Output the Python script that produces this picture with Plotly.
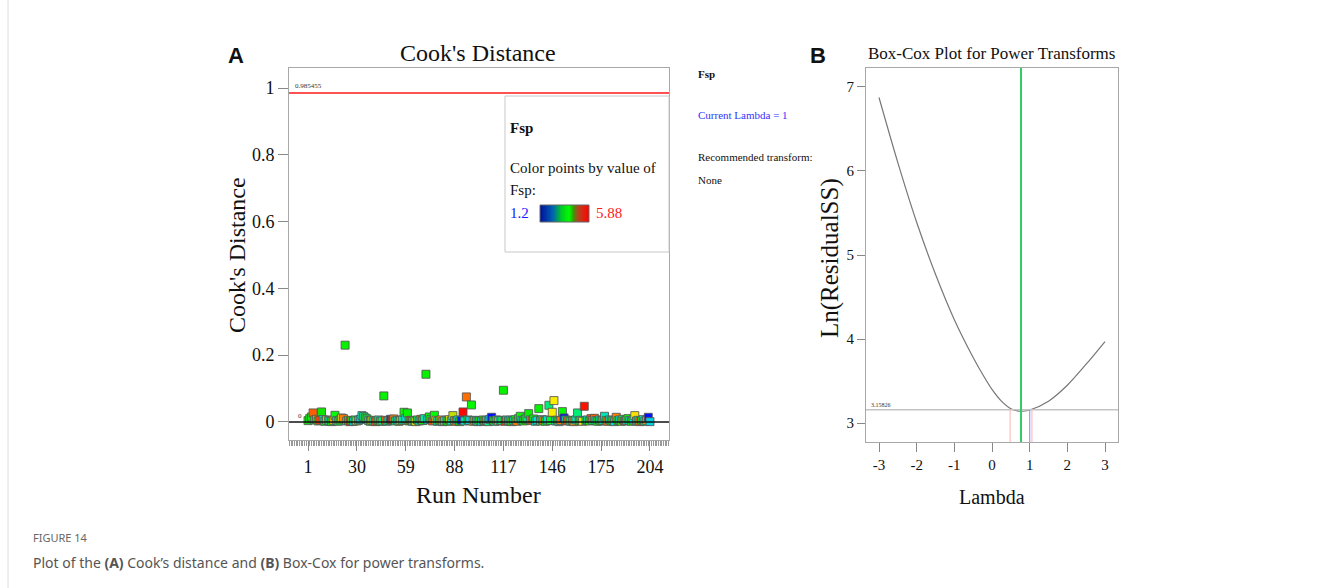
import numpy as np
import plotly.graph_objects as go

W, H = 1320, 588

# ---------------- data ----------------
run_number = list(range(1, 205))

cooks_distance = [
    0.004, 0.010, 0.015, 0.027, 0.006, 0.008, 0.003, 0.005, 0.030, 0.007, 0.002, 0.006, 0.004, 0.003, 0.001, 0.005, 0.020,
    0.004, 0.002, 0.006, 0.012, 0.010, 0.230, 0.003, 0.005, 0.001, 0.004, 0.002, 0.006, 0.003, 0.005, 0.008, 0.019, 0.016,
    0.012, 0.009, 0.004, 0.002, 0.005, 0.003, 0.001, 0.004, 0.006, 0.002, 0.003, 0.078, 0.005, 0.002, 0.004, 0.008, 0.006,
    0.009, 0.003, 0.005, 0.002, 0.004, 0.006, 0.029, 0.010, 0.027, 0.003, 0.005, 0.002, 0.004, 0.001, 0.006, 0.003, 0.008,
    0.004, 0.010, 0.143, 0.006, 0.015, 0.008, 0.003, 0.020, 0.005, 0.002, 0.004, 0.006, 0.001, 0.003, 0.005, 0.002, 0.007,
    0.003, 0.019, 0.004, 0.002, 0.006, 0.001, 0.005, 0.030, 0.003, 0.075, 0.006, 0.004, 0.051, 0.002, 0.005, 0.003, 0.001,
    0.004, 0.002, 0.006, 0.003, 0.005, 0.001, 0.008, 0.014, 0.004, 0.002, 0.006, 0.003, 0.005, 0.004, 0.095, 0.002, 0.006,
    0.003, 0.005, 0.001, 0.004, 0.007, 0.002, 0.010, 0.017, 0.005, 0.003, 0.008, 0.012, 0.025, 0.006, 0.004, 0.009, 0.002,
    0.005, 0.040, 0.003, 0.007, 0.004, 0.002, 0.006, 0.050, 0.004, 0.029, 0.064, 0.003, 0.005, 0.001, 0.004, 0.031, 0.012,
    0.006, 0.003, 0.005, 0.002, 0.004, 0.001, 0.006, 0.027, 0.003, 0.005, 0.002, 0.047, 0.004, 0.006, 0.003, 0.010, 0.005,
    0.011, 0.004, 0.002, 0.006, 0.003, 0.005, 0.017, 0.004, 0.002, 0.006, 0.003, 0.005, 0.001, 0.014, 0.004, 0.006, 0.002,
    0.008, 0.003, 0.005, 0.010, 0.004, 0.002, 0.006, 0.019, 0.003, 0.005, 0.001, 0.004, 0.007, 0.002, 0.005, 0.014, 0.001,
]

fsp_values = [
    3.6, 3.3, 3.5, 5.4, 2.9, 5.1, 3.4, 5.6, 3.7, 2.6, 3.5, 4.4, 3.2, 2.8, 3.6, 4.9, 3.3,
    2.5, 3.1, 3.8, 4.6, 5.2, 3.5, 2.7, 3.3, 5.7, 3.9, 2.4, 3.2, 4.5, 2.9, 2.3, 2.6, 3.0,
    3.4, 3.1, 2.5, 3.6, 4.4, 2.8, 5.5, 3.3, 2.6, 3.9, 3.0, 3.5, 5.3, 2.7, 3.2, 1.5, 5.8,
    5.2, 3.0, 2.6, 3.4, 4.8, 2.9, 3.4, 2.5, 3.5, 3.8, 5.6, 2.7, 3.3, 4.5, 3.1, 2.8, 5.4,
    3.6, 2.9, 3.5, 2.4, 3.4, 3.2, 5.5, 3.3, 4.6, 2.7, 3.9, 5.1, 3.0, 4.3, 2.6, 3.5, 4.4,
    2.8, 4.2, 3.1, 5.3, 2.5, 3.7, 1.4, 5.85, 2.7, 5.3, 3.2, 2.4, 3.4, 5.0, 2.9, 3.6, 2.6,
    3.3, 2.5, 3.8, 5.4, 2.6, 3.0, 2.3, 1.3, 3.5, 2.8, 3.2, 4.7, 2.4, 3.1, 3.5, 5.6, 2.7,
    3.4, 2.5, 3.9, 2.8, 3.3, 5.2, 2.9, 3.4, 2.6, 3.7, 3.2, 3.0, 3.5, 2.4, 5.5, 3.3, 2.7,
    2.6, 3.5, 3.1, 2.8, 5.1, 3.6, 2.5, 3.0, 3.2, 4.5, 4.5, 2.7, 3.8, 2.4, 5.3, 3.4, 1.3,
    2.9, 5.4, 3.3, 2.6, 3.7, 5.0, 2.8, 3.0, 3.5, 2.5, 4.6, 5.8, 3.2, 2.7, 3.6, 5.5, 3.1,
    5.4, 2.6, 3.4, 2.9, 3.8, 2.4, 2.7, 3.2, 5.2, 2.8, 3.5, 3.0, 2.5, 5.2, 3.3, 2.6, 3.9,
    3.1, 5.6, 2.7, 3.4, 2.8, 3.6, 2.5, 4.6, 3.2, 2.9, 5.3, 3.5, 2.6, 3.0, 5.0, 1.3, 2.3,
]

fsp_min, fsp_max = 1.2, 5.88
cooks_threshold = 0.985455
run_ticks = [1, 30, 59, 88, 117, 146, 175, 204]

# Box-Cox curve
boxcox_lambda = [-3.0, -2.5, -2.0, -1.5, -1.0, -0.5, -0.25, 0.0, 0.25, 0.5, 0.77, 1.0, 1.5, 2.0, 2.5, 3.0]
ln_residual_ss = [6.875, 6.10, 5.39, 4.77, 4.23, 3.78, 3.58, 3.40, 3.26, 3.17, 3.14, 3.155, 3.26, 3.45, 3.70, 3.97]
lambda_best = 0.77
lambda_ci = [0.48, 1.06]
lambda_current = 1.0
ci_level = 3.15826
lambda_ticks = [-3, -2, -1, 0, 1, 2, 3]
lambda_tick_text = ["-3", "-2", "-1", "0", "1", "2", "3"]

# ---------------- helpers ----------------
def fx(p):
    return p / W


def fy(p):
    return 1 - p / H


SERIF = "Liberation Serif, Times New Roman, serif"
SANS = "Liberation Sans, Arial, sans-serif"

point_scale = [
    [0.0, "#0000ff"], [0.12, "#0060ff"], [0.25, "#00e0e0"], [0.36, "#00e8a0"],
    [0.45, "#00ff00"], [0.55, "#10e000"], [0.64, "#c0e000"], [0.71, "#ffee00"],
    [0.85, "#ff8000"], [0.92, "#ff5000"], [1.0, "#ff0000"],
]
legend_scale = [
    [0.0, "#0010a0"], [0.25, "#0060b0"], [0.45, "#00d020"], [0.6, "#00ff00"],
    [0.68, "#30a000"], [0.76, "#a05020"], [0.9, "#e02010"], [1.0, "#ff0000"],
]

fig = go.Figure()

# Cook's distance points
fig.add_trace(go.Scatter(
    x=run_number, y=cooks_distance, mode="markers",
    marker=dict(symbol="square", size=8, color=fsp_values, colorscale=point_scale,
                cmin=fsp_min, cmax=fsp_max,
                line=dict(color="rgba(85,85,85,0.85)", width=1)),
    xaxis="x", yaxis="y", showlegend=False,
))

# Box-Cox curve
fig.add_trace(go.Scatter(
    x=boxcox_lambda, y=ln_residual_ss, mode="lines",
    line=dict(color="#777777", width=1.2, shape="spline", smoothing=0.8),
    xaxis="x2", yaxis="y2", showlegend=False,
))

# colour key gradient
grad = list(np.linspace(fsp_min, fsp_max, 60))
fig.add_trace(go.Heatmap(
    z=[grad], colorscale=legend_scale, showscale=False, zmin=fsp_min, zmax=fsp_max,
    xaxis="x3", yaxis="y3", hoverinfo="skip",
))

axis_common = dict(showgrid=False, zeroline=False, showline=True, linecolor="#a8a8a8",
                   linewidth=1, mirror=True, ticks="outside", tickcolor="#888888",
                   tickfont=dict(family=SERIF, size=18, color="#111111"))
small_font = dict(family=SERIF, size=15, color="#111111")

y1_range = [-0.054, 1.06]
y2_range = [2.774, 7.226]

fig.update_layout(
    width=W, height=H, margin=dict(l=0, r=0, t=0, b=0),
    paper_bgcolor="white", plot_bgcolor="white",
    xaxis=dict(domain=[fx(289), fx(669)], range=[-10.3, 215.3], anchor="y",
               tickmode="array", tickvals=run_ticks, ticklen=10,
               minor=dict(ticks="outside", ticklen=5, dtick=1, tick0=1, tickcolor="#999999"),
               **axis_common),
    yaxis=dict(domain=[fy(440), fy(68)], range=y1_range, anchor="x",
               tickvals=[0, 0.2, 0.4, 0.6, 0.8, 1], ticklen=10, **axis_common),
    xaxis2=dict(domain=[fx(866), fx(1118)], range=[-3.345, 3.345], anchor="y2",
                tickvals=lambda_ticks, ticktext=lambda_tick_text, ticklen=9,
                **{**axis_common, "tickfont": small_font}),
    yaxis2=dict(domain=[fy(442), fy(68)], range=y2_range, anchor="x2",
                tickvals=[3, 4, 5, 6, 7], ticklen=8,
                **{**axis_common, "tickfont": small_font}),
    xaxis3=dict(domain=[fx(540), fx(589)], range=[-0.5, 59.5], anchor="y3", visible=False),
    yaxis3=dict(domain=[fy(222), fy(205)], range=[-0.5, 0.5], anchor="x3", visible=False),
)

shapes = [
    # threshold and zero lines
    dict(type="line", xref="x domain", yref="y", x0=0, x1=1, y0=cooks_threshold, y1=cooks_threshold,
         line=dict(color="#ff1a1a", width=1.5)),
    dict(type="line", xref="x domain", yref="y", x0=0, x1=1, y0=0, y1=0,
         line=dict(color="#111111", width=1.5)),
    # key box
    dict(type="rect", xref="paper", yref="paper", x0=fx(505), x1=fx(669), y0=fy(252), y1=fy(96),
         line=dict(color="#c8c8c8", width=1), fillcolor="rgba(0,0,0,0)"),
    dict(type="rect", xref="paper", yref="paper", x0=fx(540), x1=fx(589), y0=fy(222), y1=fy(205),
         line=dict(color="#666666", width=1), fillcolor="rgba(0,0,0,0)"),
    # Box-Cox reference lines
    dict(type="line", xref="x2 domain", yref="y2", x0=0, x1=1, y0=ci_level, y1=ci_level,
         line=dict(color="#c4c4c4", width=1.5)),
    dict(type="line", xref="x2", yref="y2", x0=lambda_ci[0], x1=lambda_ci[0], y0=y2_range[0], y1=ci_level,
         line=dict(color="#ffb0b0", width=1)),
    dict(type="line", xref="x2", yref="y2", x0=lambda_ci[1], x1=lambda_ci[1], y0=y2_range[0], y1=ci_level,
         line=dict(color="#ffb0b0", width=1)),
    dict(type="line", xref="x2", yref="y2", x0=lambda_current, x1=lambda_current, y0=y2_range[0], y1=ci_level,
         line=dict(color="#9999ff", width=1.2)),
    dict(type="line", xref="x2", yref="y2 domain", x0=lambda_best, x1=lambda_best, y0=0, y1=1,
         line=dict(color="#33cc66", width=2)),
    # page rule
    dict(type="line", xref="paper", yref="paper", x0=fx(8), x1=fx(8), y0=0, y1=1,
         line=dict(color="#dcdcdc", width=1)),
]
fig.update_layout(shapes=shapes)


def text(s, x, y, size, family=SERIF, color="#111111", xanchor="center", angle=0):
    return dict(text=s, x=fx(x), y=fy(y), xref="paper", yref="paper", showarrow=False,
                xanchor=xanchor, yanchor="middle", textangle=angle,
                font=dict(family=family, size=size, color=color))


annotations = [
    text("<b>A</b>", 236, 55, 22, family=SANS),
    text("Cook's Distance", 478, 53, 24),
    text("Cook's Distance", 237, 255, 24, angle=-90),
    text("Run Number", 478, 495, 24),
    text("0.985455", 293, 86, 7, xanchor="left", color="#333333"),
    text("0", 296, 416, 7, xanchor="left", color="#333333"),
    text("<b>Fsp</b>", 508, 128, 15, xanchor="left"),
    text("Color points by value of", 508, 168, 15, xanchor="left"),
    text("Fsp:", 508, 190, 15, xanchor="left"),
    text("1.2", 508, 213, 15, xanchor="left", color="#1a1aff"),
    text("5.88", 594, 213, 15, xanchor="left", color="#ff1a1a"),
    text("<b>Fsp</b>", 696, 74, 11, xanchor="left"),
    text("Current Lambda = 1", 696, 115, 11, xanchor="left", color="#3333ff"),
    text("Recommended transform:", 696, 157, 11, xanchor="left"),
    text("None", 696, 180, 11, xanchor="left"),
    text("<b>B</b>", 818, 55, 22, family=SANS),
    text("Box-Cox Plot for Power Transforms", 992, 53, 17),
    text("Ln(ResidualSS)", 830, 258, 25, angle=-90),
    text("Lambda", 992, 497, 20),
    text("3.15826", 869, 405, 6, xanchor="left", color="#333333"),
    text("FIGURE 14", 31, 537, 11, family="Noto Sans", color="#666666", xanchor="left"),
    text("Plot of the <b>(A)</b> Cook\u2019s distance and <b>(B)</b> Box-Cox for power transforms.",
         31, 562, 14, family="Noto Sans", color="#555555", xanchor="left"),
]
fig.update_layout(annotations=annotations)

fig.write_html("out.html")
